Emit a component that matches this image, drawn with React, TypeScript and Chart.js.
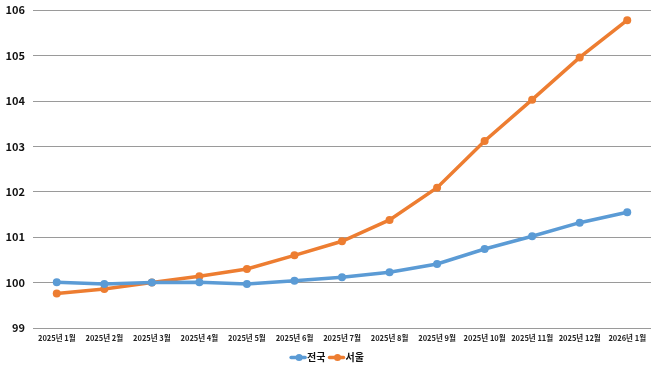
import React, { useEffect, useRef } from "react";
import { Chart, registerables } from "chart.js";

Chart.register(...registerables);

const categories = [
  "2025년 1월", "2025년 2월", "2025년 3월", "2025년 4월", "2025년 5월", "2025년 6월",
  "2025년 7월", "2025년 8월", "2025년 9월", "2025년 10월", "2025년 11월", "2025년 12월", "2026년 1월",
];
const nationalValues = [100.01, 99.97, 100.0, 100.01, 99.97, 100.04, 100.12, 100.23, 100.41, 100.74, 101.02, 101.32, 101.55];
const seoulValues = [99.76, 99.86, 100.0, 100.14, 100.3, 100.6, 100.91, 101.38, 102.09, 103.12, 104.03, 104.96, 105.78];
const seriesNames = ["전국", "서울"];
const seriesColors = ["#5B9BD5", "#ED7D31"];

const FONT = "'Noto Sans CJK KR', 'Noto Sans', sans-serif";

const legendPlugin = {
  id: "customLegend",
  afterDraw(chart: any) {
    const ctx = chart.ctx;
    ctx.save();
    ctx.font = `bold 10px ${FONT}`;
    ctx.textBaseline = "middle";
    const y = 357.5;
    const items = chart.data.datasets.map((d: any) => ({ label: d.label, color: d.borderColor }));
    const lineW = 16;
    const gap = 3;
    const widths = items.map((it: any) => lineW + 1 + ctx.measureText(it.label).width);
    const total = widths.reduce((a: number, b: number) => a + b, 0) + gap * (items.length - 1);
    let x = chart.width / 2 - 2 - total / 2;
    items.forEach((it: any, i: number) => {
      ctx.strokeStyle = it.color;
      ctx.lineWidth = 3.5;
      ctx.lineCap = "round";
      ctx.beginPath();
      ctx.moveTo(x + 1, y);
      ctx.lineTo(x + lineW - 1, y);
      ctx.stroke();
      ctx.fillStyle = it.color;
      ctx.beginPath();
      ctx.arc(x + lineW / 2 + 1, y, 3.5, 0, Math.PI * 2);
      ctx.fill();
      ctx.fillStyle = "#111";
      ctx.textAlign = "left";
      ctx.fillText(it.label, x + lineW + 1, y);
      x += widths[i] + gap;
    });
    ctx.restore();
  },
};

export default function App() {
  const ref = useRef<HTMLCanvasElement | null>(null);
  useEffect(() => {
    if (!ref.current) return;
    const chart = new Chart(ref.current, {
      type: "line",
      data: {
        labels: categories,
        datasets: [
          {
            label: seriesNames[0],
            data: nationalValues,
            borderColor: seriesColors[0],
            backgroundColor: seriesColors[0],
            borderWidth: 3.5,
            pointRadius: 4,
            pointBorderWidth: 0,
            pointHoverRadius: 4,
            tension: 0,
          },
          {
            label: seriesNames[1],
            data: seoulValues,
            borderColor: seriesColors[1],
            backgroundColor: seriesColors[1],
            borderWidth: 3.5,
            pointRadius: 4,
            pointBorderWidth: 0,
            pointHoverRadius: 4,
            tension: 0,
          },
        ],
      },
      options: {
        animation: false,
        responsive: false,
        maintainAspectRatio: false,
        layout: { padding: { top: 0, right: 7, bottom: 21, left: 4 } },
        plugins: {
          legend: { display: false },
          tooltip: { enabled: false },
        },
        scales: {
          x: {
            offset: true,
            grid: { display: false, drawTicks: false },
            border: { display: false },
            ticks: {
              color: "#222",
              font: { family: FONT, size: 7.5, weight: "bold" },
              maxRotation: 0,
              autoSkip: false,
              padding: 6,
            },
          },
          y: {
            min: 99,
            max: 106,
            grid: { color: "#9a9a9a", lineWidth: 1, drawTicks: false },
            border: { display: false },
            ticks: {
              stepSize: 1,
              color: "#111",
              font: { family: FONT, size: 11, weight: "bold", lineHeight: 0.4 },
              padding: 8,
            },
            afterFit(scale: any) {
              scale.width = 29;
            },
          },
        },
      },
      plugins: [legendPlugin],
    });
    return () => chart.destroy();
  }, []);
  return (
    <div style={{ position: "fixed", left: 0, top: 0, width: 658, height: 370, background: "#fff" }}>
      <canvas ref={ref} width={658} height={370} style={{ width: 658, height: 370 }} />
    </div>
  );
}
